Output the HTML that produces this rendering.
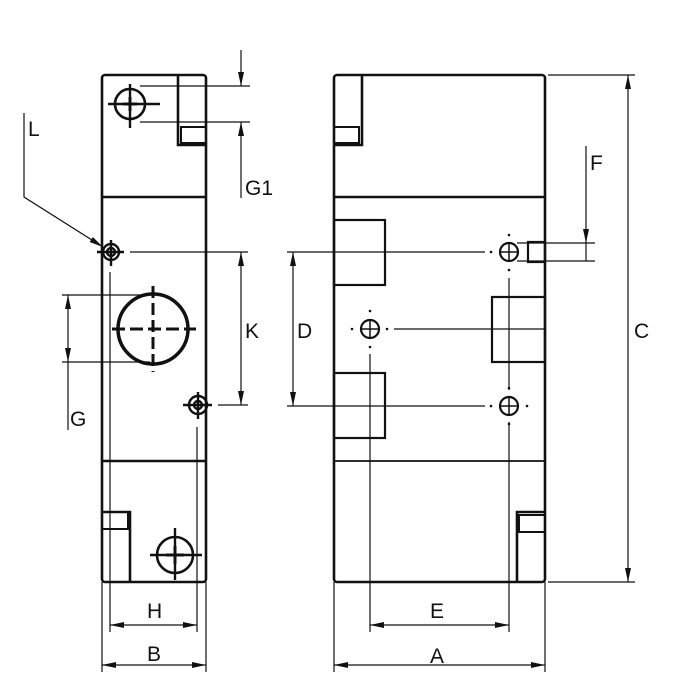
<!DOCTYPE html>
<html><head><meta charset="utf-8"><style>
html,body{margin:0;padding:0;background:#fff;}
svg{display:block;}
text{font-family:"Liberation Sans",Arial,sans-serif;font-size:21px;fill:#111;}
</style></head><body>
<svg width="690" height="700" viewBox="0 0 690 700" xmlns="http://www.w3.org/2000/svg">
<defs>
<marker id="ar" viewBox="0 0 14 6" refX="14" refY="3" markerWidth="14" markerHeight="6" orient="auto-start-reverse" markerUnits="userSpaceOnUse">
<path d="M0,0 L14,3 L0,6 Z" fill="#111"/></marker>
</defs>
<g fill="none" stroke="#111">
<!-- LEFT VIEW -->
<g stroke-width="2.6">
<rect x="102" y="75" width="104" height="507" rx="3"/>
<line x1="102" y1="197" x2="206" y2="197"/>
<line x1="102" y1="461" x2="206" y2="461"/>
<polyline points="178,75 178,145 206,145"/>
<rect x="181" y="127" width="25" height="16" stroke-width="2"/>
<polyline points="102,512 130,512 130,582"/>
<rect x="102" y="512" width="26" height="17" stroke-width="2"/>
<circle cx="130" cy="104" r="15"/>
<circle cx="175" cy="555" r="18"/>
<circle cx="153" cy="329" r="35" stroke-width="3.5"/>
</g>
<g stroke-width="2.4">
<line x1="130" y1="84" x2="130" y2="128"/><line x1="108" y1="104" x2="160" y2="104"/>
<line x1="130" y1="97" x2="130" y2="111" stroke-width="3"/><line x1="123" y1="104" x2="137" y2="104" stroke-width="3"/>
<line x1="175" y1="528" x2="175" y2="580"/><line x1="150" y1="555" x2="202" y2="555"/>
<line x1="175" y1="546" x2="175" y2="564" stroke-width="3"/><line x1="166" y1="555" x2="184" y2="555" stroke-width="3"/>
<line x1="153" y1="286" x2="153" y2="372" stroke-dasharray="12,5" stroke-width="3"/>
<line x1="112" y1="329" x2="196" y2="329" stroke-dasharray="13,5" stroke-width="3"/>
<circle cx="111" cy="252" r="8"/><circle cx="111" cy="252" r="4"/>
<line x1="111" y1="240" x2="111" y2="266"/><line x1="97" y1="252" x2="124" y2="252"/>
<circle cx="198" cy="405" r="9"/><circle cx="198" cy="405" r="4"/>
<line x1="198" y1="392" x2="198" y2="419"/><line x1="183" y1="405" x2="212" y2="405"/>
</g>
<g stroke-width="1.2">
<line x1="140" y1="86" x2="250" y2="86"/><line x1="140" y1="122" x2="250" y2="122"/>
<line x1="241" y1="50" x2="241" y2="86" marker-end="url(#ar)"/>
<line x1="241" y1="198" x2="241" y2="122" marker-end="url(#ar)"/>
<line x1="130" y1="252" x2="248" y2="252"/><line x1="218" y1="405" x2="248" y2="405"/>
<line x1="241" y1="252" x2="241" y2="405" marker-start="url(#ar)" marker-end="url(#ar)"/>
<polyline points="24,113 24,197 103,247" marker-end="url(#ar)"/>
<line x1="62" y1="295" x2="150" y2="295"/><line x1="62" y1="362" x2="150" y2="362"/>
<line x1="68" y1="295" x2="68" y2="362" marker-start="url(#ar)" marker-end="url(#ar)"/>
<line x1="68" y1="362" x2="68" y2="430"/>
<line x1="110" y1="272" x2="110" y2="632"/>
<line x1="197" y1="427" x2="197" y2="632"/>
<line x1="102" y1="582" x2="102" y2="672"/><line x1="206" y1="582" x2="206" y2="672"/>
<line x1="110" y1="625" x2="197" y2="625" marker-start="url(#ar)" marker-end="url(#ar)"/>
<line x1="102" y1="665" x2="206" y2="665" marker-start="url(#ar)" marker-end="url(#ar)"/>
</g>
<!-- RIGHT VIEW -->
<g stroke-width="2.6">
<rect x="334" y="75" width="211" height="507" rx="3"/>
<line x1="334" y1="197" x2="545" y2="197"/>
<polyline points="362,75 362,145 334,145"/>
<rect x="334" y="127" width="25" height="16" stroke-width="2"/>
<polyline points="545,512 517,512 517,582"/>
<rect x="519" y="515" width="26" height="17" stroke-width="2"/>
<rect x="334" y="220" width="51" height="65" stroke-width="2.2"/>
<rect x="492" y="297" width="53" height="65" stroke-width="2.2"/>
<rect x="334" y="373" width="51" height="65" stroke-width="2.2"/>
<rect x="528" y="242" width="17" height="20" stroke-width="2.2"/>
<circle cx="509" cy="252" r="9" stroke-width="2.2"/>
<circle cx="370" cy="329" r="9" stroke-width="2.2"/>
<circle cx="509" cy="406" r="9" stroke-width="2.2"/>
</g>
<line x1="334" y1="461" x2="545" y2="461" stroke-width="1.8"/>
<g stroke-width="1.5">
<line x1="509" y1="243" x2="509" y2="261"/><line x1="500" y1="252" x2="518" y2="252"/>
<line x1="370" y1="320" x2="370" y2="338"/><line x1="361" y1="329" x2="379" y2="329"/>
<line x1="509" y1="397" x2="509" y2="415"/><line x1="500" y1="406" x2="518" y2="406"/>
</g>
<g stroke-width="1.2">
<line x1="287" y1="252" x2="485" y2="252"/><line x1="287" y1="406" x2="485" y2="406"/>
<line x1="394" y1="329" x2="545" y2="329"/>
<line x1="293" y1="252" x2="293" y2="406" marker-start="url(#ar)" marker-end="url(#ar)"/>
<line x1="370" y1="354" x2="370" y2="632"/>
<line x1="509" y1="278" x2="509" y2="390"/>
<line x1="509" y1="422" x2="509" y2="632"/>
<line x1="370" y1="625" x2="509" y2="625" marker-start="url(#ar)" marker-end="url(#ar)"/>
<line x1="334" y1="582" x2="334" y2="672"/><line x1="545" y1="582" x2="545" y2="672"/>
<line x1="334" y1="665" x2="545" y2="665" marker-start="url(#ar)" marker-end="url(#ar)"/>
<line x1="548" y1="75" x2="635" y2="75"/><line x1="548" y1="582" x2="635" y2="582"/>
<line x1="628" y1="75" x2="628" y2="582" marker-start="url(#ar)" marker-end="url(#ar)"/>
<line x1="517" y1="243" x2="595" y2="243"/><line x1="517" y1="261" x2="595" y2="261"/>
<line x1="586" y1="146" x2="586" y2="243" marker-end="url(#ar)"/>
<line x1="586" y1="243" x2="586" y2="261"/>
</g>
</g>
<g fill="#111">
<circle cx="509" cy="235" r="1.3"/><circle cx="509" cy="270" r="1.3"/><circle cx="491" cy="252" r="1.3"/>
<circle cx="370" cy="311" r="1.3"/><circle cx="370" cy="347" r="1.3"/><circle cx="352" cy="329" r="1.3"/><circle cx="387" cy="329" r="1.3"/>
<circle cx="509" cy="388" r="1.3"/><circle cx="509" cy="424" r="1.3"/><circle cx="491" cy="406" r="1.3"/><circle cx="527" cy="406" r="1.3"/>
</g>
<text x="245" y="195">G1</text>
<text x="28" y="136">L</text>
<text x="245" y="338">K</text>
<text x="70" y="426">G</text>
<text x="147" y="618">H</text>
<text x="147" y="661">B</text>
<text x="297" y="338">D</text>
<text x="590" y="170">F</text>
<text x="634" y="338">C</text>
<text x="430" y="618">E</text>
<text x="430" y="663">A</text>
</svg>
</body></html>
